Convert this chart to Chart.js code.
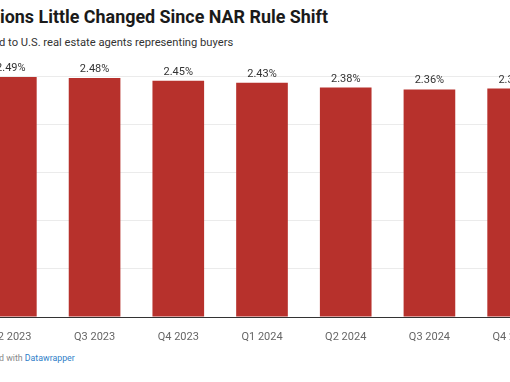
<!DOCTYPE html>
<html>
<head>
<meta charset="utf-8">
<script src="https://cdn.jsdelivr.net/npm/chart.js@4"></script>
<style>
  html, body { margin: 0; padding: 0; background: #fff; }
  #wrap { position: relative; width: 510px; height: 382px; overflow: hidden; font-family: Roboto, sans-serif; }
  #title { position: absolute; left: 0; top: 6px; font-size: 17.9px; font-weight: 700; color: #1a1a1a; white-space: nowrap; }
  #sub { position: absolute; left: -1px; top: 36px; font-size: 11.2px; color: #333; white-space: nowrap; }
  #foot { position: absolute; left: -1px; top: 353px; font-size: 8.8px; color: #888; white-space: nowrap; }
  #foot span { color: #2f80c9; }
  #chart { position: absolute; left: -31px; top: 0; }
</style>
</head>
<body>
<div id="wrap">
  <div id="title">ions Little Changed Since NAR Rule Shift</div>
  <div id="sub">d to U.S. real estate agents representing buyers</div>
  <canvas id="chart" width="586" height="345"></canvas>
  <div id="foot">d with <span>Datawrapper</span></div>
</div>
<script>
'use strict'

// quarters shown in the crop
var quarters = ['Q2 2023', 'Q3 2023', 'Q4 2023', 'Q1 2024', 'Q2 2024', 'Q3 2024', 'Q4 2024'];
// average buyer-agent commission, %
var commission = [2.49, 2.48, 2.45, 2.43, 2.38, 2.36, 2.37];
var yTicks = [0, 0.5, 1, 1.5, 2, 2.5];

// value labels above bars
const barLabels = {
  id: 'barLabels',
  afterDatasetsDraw(chart) {
    let ctx = chart.ctx;
    let meta = chart.getDatasetMeta(0);
    ctx.save();
    ctx.font = '11px Roboto';
    ctx.fillStyle = '#333';
    ctx.textAlign = 'center';
    ctx.textBaseline = 'alphabetic';
    meta.data.forEach(function (bar, i) {
      ctx.fillText(commission[i].toFixed(2) + '%', bar.x, bar.y - 6);
    });
    ctx.restore();
  }
};

const ctx = document.getElementById('chart').getContext('2d');
const barChart = new Chart(ctx, {
  type: 'bar',
  data: {
    labels: quarters,
    datasets: [{
      data: commission,
      backgroundColor: '#b7312c',
      borderWidth: 0,
      categoryPercentage: 1,
      barPercentage: 0.617
    }]
  },
  options: {
    responsive: false,
    animation: false,
    layout: { padding: { top: 76, left: 0, right: 0, bottom: 0 } },
    plugins: { legend: { display: false }, tooltip: { enabled: false } },
    scales: {
      x: {
        grid: { display: false },
        border: { display: false },
        ticks: { color: '#666', font: { family: 'Roboto', size: 11 }, padding: 6, maxRotation: 0 },
        afterFit: function (axis) { axis.height = 28; }
      },
      y: {
        min: 0,
        max: 2.5,
        afterBuildTicks: function (axis) { axis.ticks = yTicks.map(v => ({ value: v })); },
        ticks: { display: false },
        border: { display: false },
        grid: {
          drawTicks: false,
          color: c => c.tick.value === 0 ? '#333' : '#ebebeb'
        },
        afterFit: function (axis) { axis.width = 0; }
      }
    }
  },
  plugins: [barLabels]
});
</script>
</body>
</html>
